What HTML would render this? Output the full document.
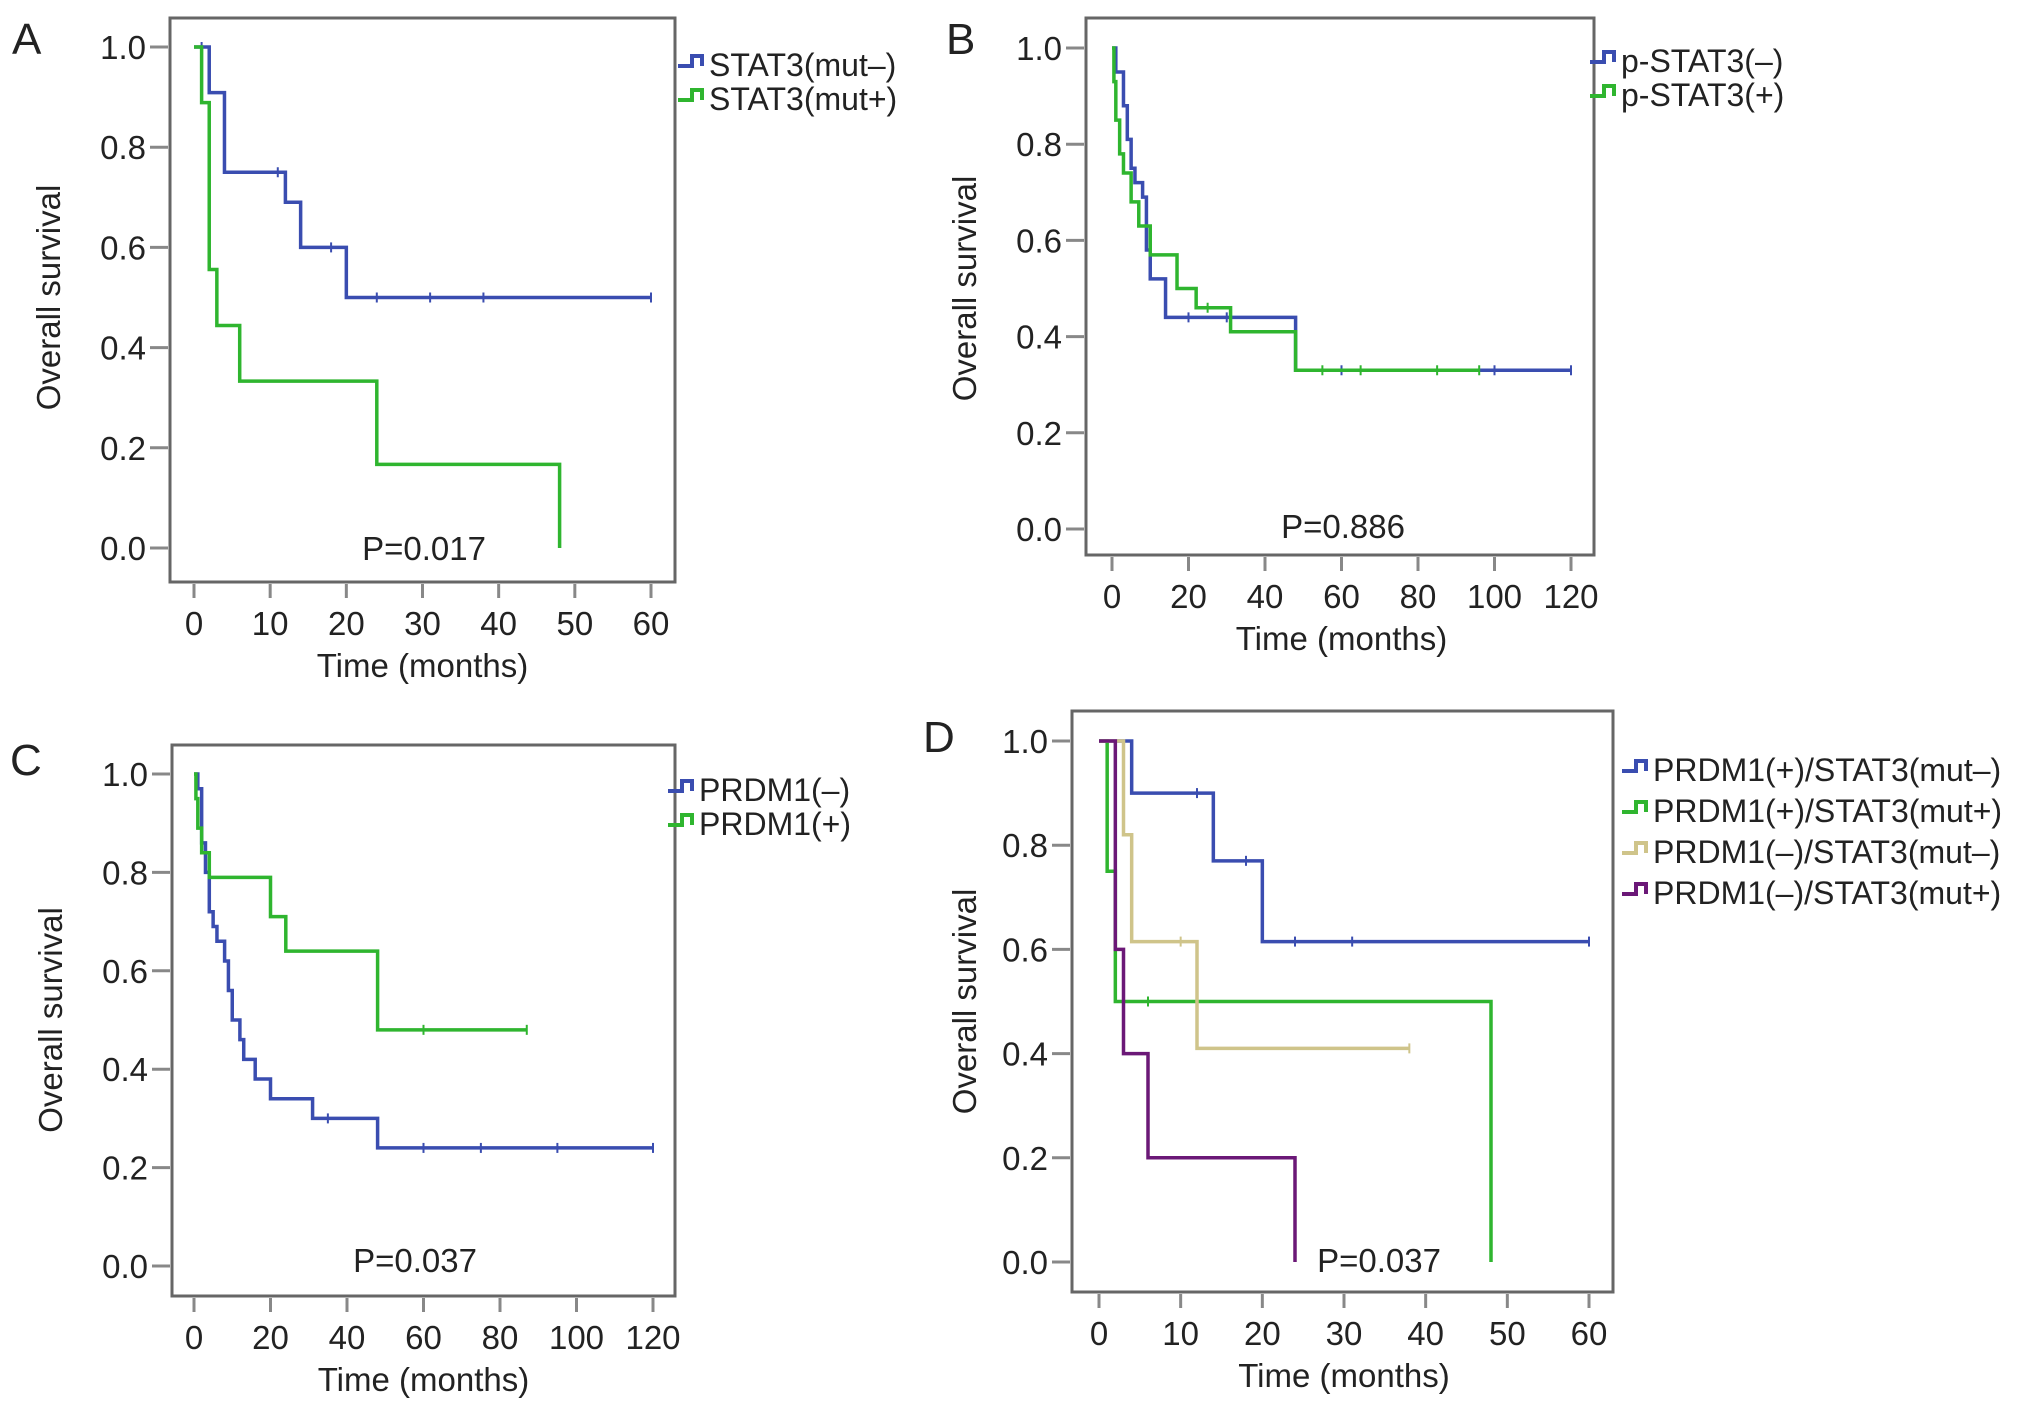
<!DOCTYPE html>
<html><head><meta charset="utf-8"><style>
html,body{margin:0;padding:0;background:#fff}
svg{display:block}
text{font-family:"Liberation Sans",Arial,sans-serif;fill:#222}
</style></head><body>
<svg id="fig" width="2032" height="1409" viewBox="0 0 2032 1409" xmlns="http://www.w3.org/2000/svg"></svg>
<script>
// Panel A data
const aBlueT=[0,2,4,12,14,20,60];
const aBlueS=[1.0,0.909,0.75,0.69,0.60,0.50,0.50];
const aBlueC=[1,11,18,24,31,38,60];
const aGreenT=[0,1,2,3,6,24,48];
const aGreenS=[1.0,0.889,0.556,0.444,0.333,0.167,0.0];
const aGreenC=[];
const aXTicks=[0,10,20,30,40,50,60];
// Panel B data
const bBlueT=[0,1,3,4,5,6,8,9,10,14,48,120];
const bBlueS=[1.0,0.95,0.88,0.81,0.75,0.72,0.69,0.58,0.52,0.44,0.33,0.33];
const bBlueC=[20,30,60,100,120];
const bGreenT=[0,0.5,1,2,3,5,7,10,17,22,31,48,96];
const bGreenS=[1.0,0.93,0.85,0.78,0.74,0.68,0.63,0.57,0.50,0.46,0.41,0.33,0.33];
const bGreenC=[25,55,65,85,96];
const bXTicks=[0,20,40,60,80,100,120];
// Panel C data
const cBlueT=[0,1,2,3,4,5,6,8,9,10,12,13,16,20,31,48,120];
const cBlueS=[1.0,0.97,0.86,0.80,0.72,0.69,0.66,0.62,0.56,0.50,0.46,0.42,0.38,0.34,0.30,0.24,0.24];
const cBlueC=[35,60,75,95,120];
const cGreenT=[0,0.5,1,2,4,7,20,24,48,87];
const cGreenS=[1.0,0.95,0.89,0.84,0.79,0.79,0.71,0.64,0.48,0.48];
const cGreenC=[60,87];
const cXTicks=[0,20,40,60,80,100,120];
// Panel D data
const dBlueT=[0,4,14,20,60];
const dBlueS=[1.0,0.90,0.77,0.615,0.615];
const dBlueC=[12,18,24,31,60];
const dGreenT=[0,1,2,48];
const dGreenS=[1.0,0.75,0.5,0.0];
const dGreenC=[6];
const dTanT=[0,3,4,12,38];
const dTanS=[1.0,0.82,0.615,0.41,0.41];
const dTanC=[10,38];
const dPurpleT=[0,2,3,6,24];
const dPurpleS=[1.0,0.6,0.4,0.2,0.0];
const dPurpleC=[];
const dXTicks=[0,10,20,30,40,50,60];
const yTicks=[0.0,0.2,0.4,0.6,0.8,1.0];

const NS='http://www.w3.org/2000/svg';
const svg=document.getElementById('fig');
function mk(tag,attrs,parent){const e=document.createElementNS(NS,tag);for(const k in attrs)e.setAttribute(k,attrs[k]);(parent||svg).appendChild(e);return e;}

function panel(p){
  const g=mk('g',{});
  
  
  const xs=t=>p.x0+(p.x1-p.x0)*t/p.xmax;
  const ys=s=>p.y0+(p.y1-p.y0)*s;
  const fr=mk('rect',{x:p.fl,y:p.ft,width:p.fr-p.fl,height:p.fb-p.ft,fill:'none',stroke:'#666','stroke-width':3},g);
  
  
  yTicks.forEach(v=>{
    const y=ys(v);
    mk('line',{x1:p.fl-20,x2:p.fl-2,y1:y,y2:y,stroke:'#888','stroke-width':3},g);
    const t=mk('text',{x:p.fl-24,y:y+12,'text-anchor':'end','font-size':33},g);
    t.textContent=v.toFixed(1);
    
    
  });
  p.xticks.forEach(v=>{
    const x=xs(v);
    mk('line',{x1:x,x2:x,y1:p.fb+2,y2:p.fb+16,stroke:'#888','stroke-width':3},g);
    const t=mk('text',{x:x,y:p.fb+53,'text-anchor':'middle','font-size':33},g);
    t.textContent=v;
    
    
  });
  const xt=mk('text',{x:(p.x0+p.x1)/2,y:p.fb+95,'text-anchor':'middle','font-size':33},g);
  xt.textContent='Time (months)';
  
  
  const yt=mk('text',{x:p.ytx,y:(p.y0+p.y1)/2,'text-anchor':'middle','font-size':33,transform:`rotate(-90 ${p.ytx} ${(p.y0+p.y1)/2})`},g);
  yt.textContent='Overall survival';
  
  
  const lb=mk('text',{x:p.lx,y:p.ly,'font-size':44},g);
  lb.textContent=p.id;
  
  
  const pv=mk('text',{x:p.px,y:p.py,'text-anchor':'middle','font-size':33},g);
  pv.textContent=p.pval;
  
  
  p.series.forEach((s,i)=>{
    let d='M'+xs(s.t[0])+' '+ys(s.s[0]);
    for(let k=1;k<s.t.length;k++){
      d+=' H'+xs(s.t[k]);
      if(k<s.s.length) d+=' V'+ys(s.s[k]);
    }
    const path=mk('path',{d:d,fill:'none',stroke:s.c,'stroke-width':3.5},g);
    
    
    s.cens.forEach(ct=>{
      let k=0;while(k+1<s.t.length&&s.t[k+1]<=ct&&k+1<s.s.length)k++;
      const y=ys(s.s[k]),x=xs(ct);
      const cm=mk('line',{x1:x,x2:x,y1:y-5,y2:y+5,stroke:s.c,'stroke-width':2},g);
      
      
    });
    const ly=p.legY+i*p.legDy;
    const ic=mk('path',{d:`M${p.legX} ${ly-4} H${p.legX+14} V${ly-14} H${p.legX+24} V${ly-4}`,fill:'none',stroke:s.c,'stroke-width':4},g);
    
    
    const lt=mk('text',{x:p.legX+31,y:ly+6,'font-size':32},g);
    lt.textContent=s.n;
    
    
  });
}
const BLUE='#3a4db0',GREEN='#2fb52f',TAN='#cfc48a',PURPLE='#6b1877';
panel({id:'A',fl:170,ft:18,fr:675,fb:582,x0:194,x1:651,xmax:60,y0:548,y1:47,xticks:aXTicks,ytx:60,lx:12,ly:54,px:424,py:560,pval:'P=0.017',legX:678,legY:70,legDy:34,
 series:[{n:'STAT3(mut\u2013)',c:BLUE,t:aBlueT,s:aBlueS,cens:aBlueC},{n:'STAT3(mut+)',c:GREEN,t:aGreenT,s:aGreenS,cens:aGreenC}]});
panel({id:'B',fl:1086,ft:18,fr:1594,fb:555,x0:1112,x1:1571,xmax:120,y0:529,y1:48,xticks:bXTicks,ytx:976,lx:946,ly:54,px:1343,py:538,pval:'P=0.886',legX:1590,legY:66,legDy:34,
 series:[{n:'p-STAT3(\u2013)',c:BLUE,t:bBlueT,s:bBlueS,cens:bBlueC},{n:'p-STAT3(+)',c:GREEN,t:bGreenT,s:bGreenS,cens:bGreenC}]});
panel({id:'C',fl:172,ft:745,fr:675,fb:1296,x0:194,x1:653,xmax:120,y0:1266,y1:774,xticks:cXTicks,ytx:62,lx:10,ly:775,px:415,py:1272,pval:'P=0.037',legX:668,legY:795,legDy:34,
 series:[{n:'PRDM1(\u2013)',c:BLUE,t:cBlueT,s:cBlueS,cens:cBlueC},{n:'PRDM1(+)',c:GREEN,t:cGreenT,s:cGreenS,cens:cGreenC}]});
panel({id:'D',fl:1072,ft:711,fr:1613,fb:1292,x0:1099,x1:1589,xmax:60,y0:1262,y1:741,xticks:dXTicks,ytx:976,lx:923,ly:752,px:1379,py:1272,pval:'P=0.037',legX:1622,legY:775,legDy:41,
 series:[{n:'PRDM1(+)/STAT3(mut\u2013)',c:BLUE,t:dBlueT,s:dBlueS,cens:dBlueC},{n:'PRDM1(+)/STAT3(mut+)',c:GREEN,t:dGreenT,s:dGreenS,cens:dGreenC},{n:'PRDM1(\u2013)/STAT3(mut\u2013)',c:TAN,t:dTanT,s:dTanS,cens:dTanC},{n:'PRDM1(\u2013)/STAT3(mut+)',c:PURPLE,t:dPurpleT,s:dPurpleS,cens:dPurpleC}]});
</script>
</body></html>
